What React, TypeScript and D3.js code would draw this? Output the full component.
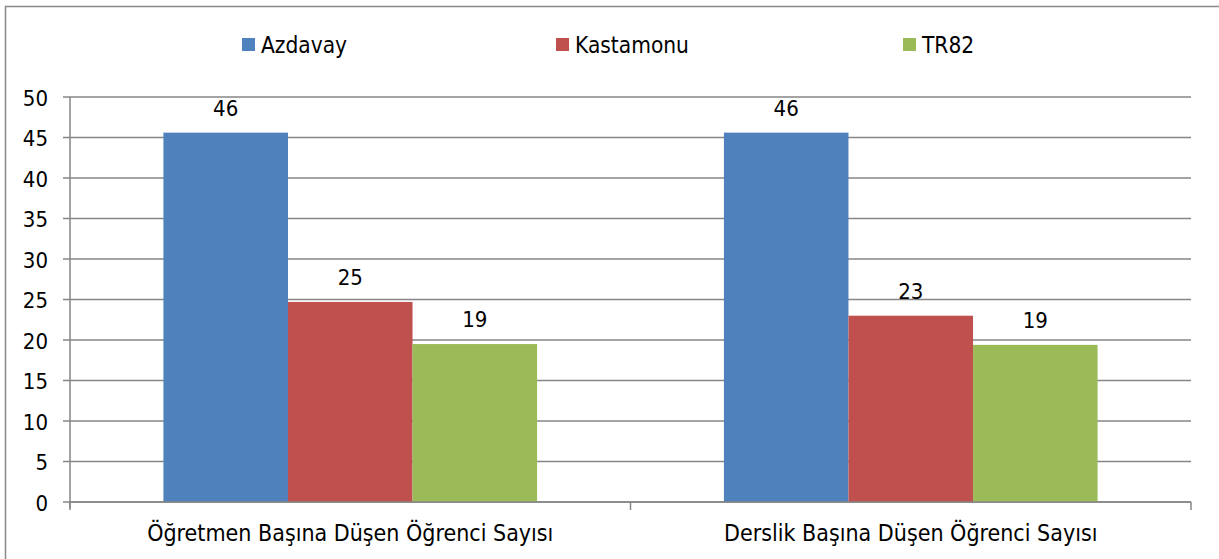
import React from "react";
import * as d3 from "d3";

const categories = ["Öğretmen Başına Düşen Öğrenci Sayısı", "Derslik Başına Düşen Öğrenci Sayısı"];
const seriesNames = ["Azdavay", "Kastamonu", "TR82"];
const azdavay = [45.6, 45.6];
const kastamonu = [24.7, 23.0];
const tr82 = [19.5, 19.4];
const labels = [["46", "46"], ["25", "23"], ["19", "19"]];
const yTicks = [0, 5, 10, 15, 20, 25, 30, 35, 40, 45, 50];
const colors = ["#4F81BD", "#C0504D", "#9BBB59"];
const legendX = [242, 556, 903];

const W = 1219;
const H = 559;
const FONT = "'DejaVu Sans Condensed', 'DejaVu Sans', Verdana, sans-serif";

export default function App() {
  const values = [azdavay, kastamonu, tr82];
  const left = 70, right = 1191, top = 97, bottom = 502;
  const x0 = d3.scaleBand<string>().domain(categories).range([left, right]).paddingInner(0).paddingOuter(0);
  const bw = x0.bandwidth();
  const inner = d3.scaleBand<string>().domain(seriesNames).range([bw / 6, bw - bw / 6]);
  const y = d3.scaleLinear().domain([0, 50]).range([bottom, top]);
  const grid = "#868686";

  return (
    <svg width={W} height={H} style={{ position: "absolute", left: 0, top: 0, display: "block" }} fontFamily={FONT}>
      <rect x={0} y={0} width={W} height={H} fill="#fff" />
      <rect x={5.5} y={6.5} width={W + 10} height={H + 10} fill="none" stroke="#888" strokeWidth={1.5} />
      {/* legend */}
      {seriesNames.map((s, i) => (
        <g key={s}>
          <rect x={legendX[i]} y={38} width={13} height={13} fill={colors[i]} />
          <text x={legendX[i] + 19} y={52.5} fontSize={22.5} fill="#000">{s}</text>
        </g>
      ))}
      {/* gridlines */}
      {yTicks.map((t) => (
        <g key={t}>
          <line x1={63} x2={right} y1={y(t)} y2={y(t)} stroke={grid} strokeWidth={1.5} />
          <text x={48} y={y(t) + 8.5} textAnchor="end" fontSize={22} fill="#000">{t}</text>
        </g>
      ))}
      {/* bars */}
      {categories.map((c, ci) => (
        <g key={c}>
          {seriesNames.map((s, si) => {
            const bx = (x0(c) as number) + (inner(s) as number);
            const v = values[si][ci];
            return (
              <g key={s}>
                <rect x={bx} y={y(v)} width={inner.bandwidth()} height={y(0) - y(v)} fill={colors[si]} />
                <text x={bx + inner.bandwidth() / 2} y={y(v) - 17} textAnchor="middle" fontSize={22} fill="#000">
                  {labels[si][ci]}
                </text>
              </g>
            );
          })}
          <text x={(x0(c) as number) + bw / 2} y={541} textAnchor="middle" fontSize={23} fill="#000">{c}</text>
        </g>
      ))}
      {/* axes */}
      <line x1={left} x2={left} y1={top} y2={bottom + 6} stroke={grid} strokeWidth={1.5} />
      <line x1={left} x2={right} y1={bottom} y2={bottom} stroke={grid} strokeWidth={1.5} />
      {[left, left + bw, right].map((t, i) => (
        <line key={i} x1={t} x2={t} y1={bottom} y2={bottom + 8} stroke={grid} strokeWidth={1.5} />
      ))}
    </svg>
  );
}
